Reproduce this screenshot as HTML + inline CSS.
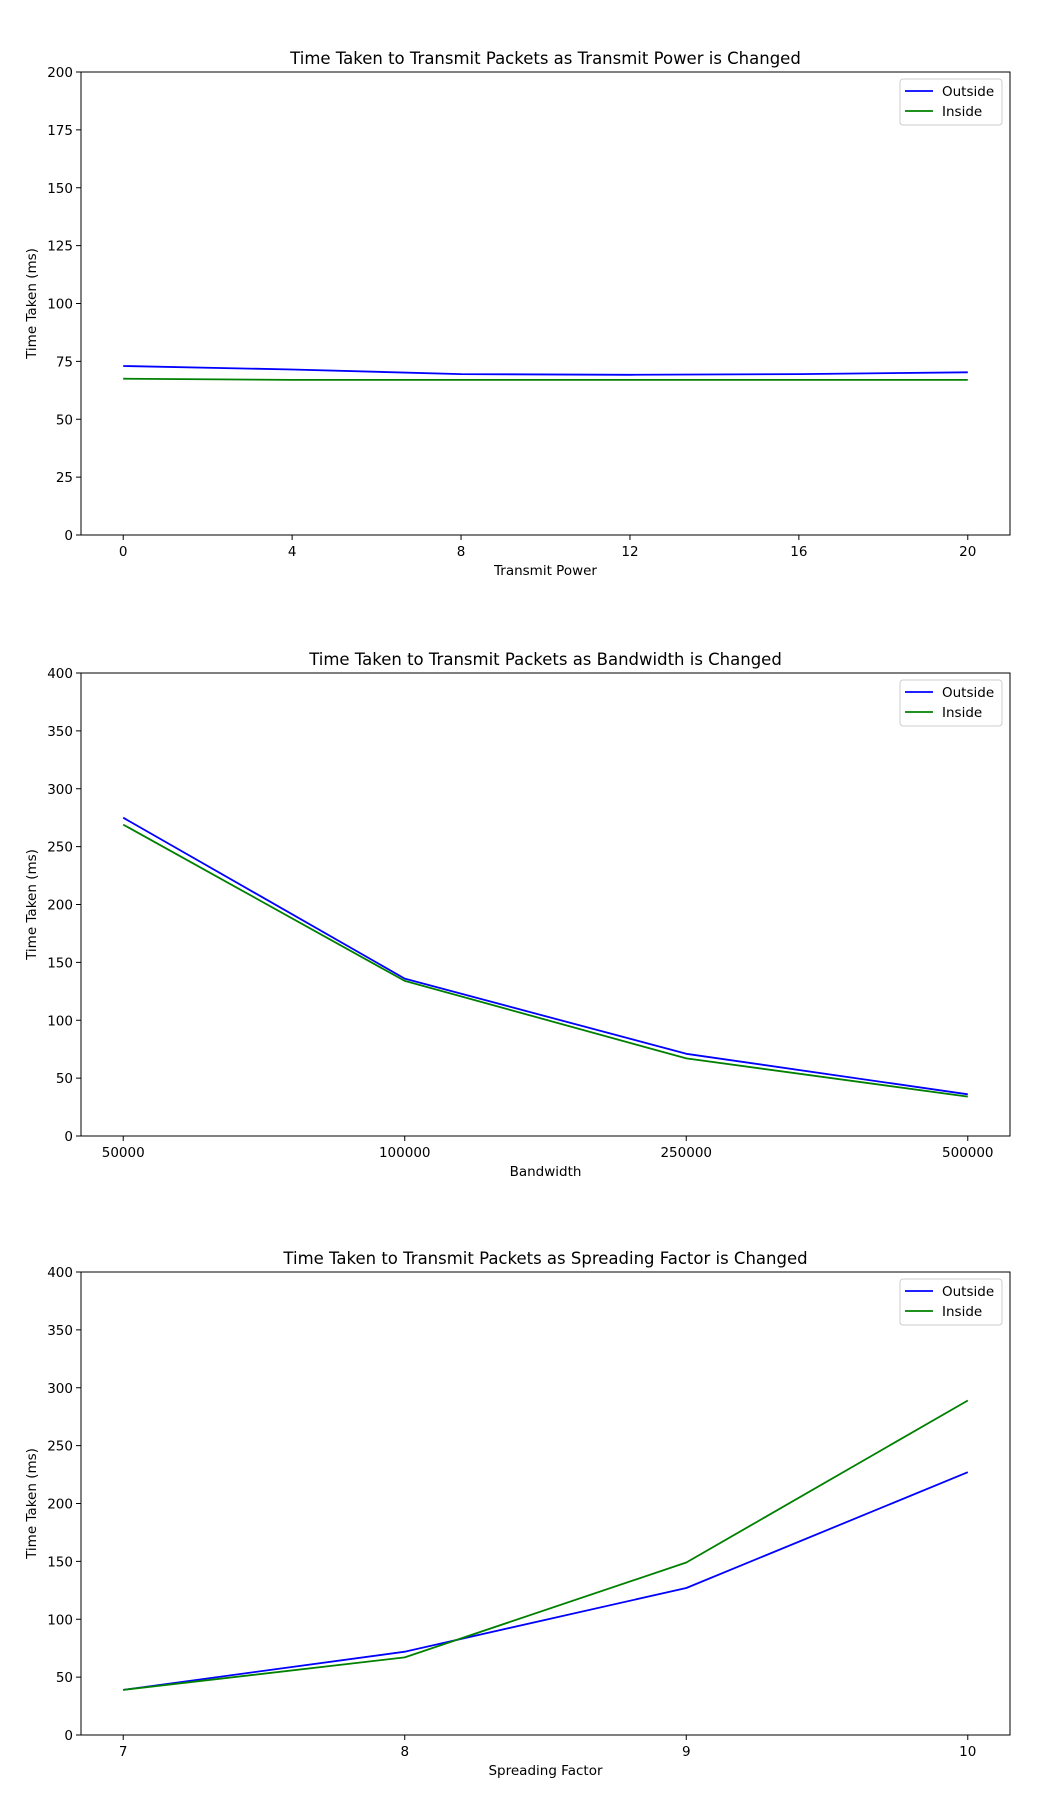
<!DOCTYPE html>
<html><head><meta charset="utf-8"><style>
html,body{margin:0;padding:0;background:#fff;}
svg{display:block;font-family:"DejaVu Sans","Liberation Sans",sans-serif;}
</style></head><body>
<svg id="fig" width="1060" height="1800" viewBox="0 0 1060 1800"></svg>
<script>
const powerX = [0, 4, 8, 12, 16, 20];
const powerOutside = [73, 71.5, 69.5, 69.2, 69.5, 70.3];
const powerInside = [67.5, 67, 67, 67, 67, 67];
const powerXTicks = [0, 4, 8, 12, 16, 20];
const powerYTicks = [0, 25, 50, 75, 100, 125, 150, 175, 200];

const bwCategories = ["50000", "100000", "250000", "500000"];
const bwOutside = [275, 136, 71, 36];
const bwInside = [269, 134, 67, 34];
const bwYTicks = [0, 50, 100, 150, 200, 250, 300, 350, 400];

const sfX = [7, 8, 9, 10];
const sfOutside = [39, 72, 127, 227];
const sfInside = [39, 67, 149, 289];
const sfYTicks = [0, 50, 100, 150, 200, 250, 300, 350, 400];

const NS = "http://www.w3.org/2000/svg";
const fig = document.getElementById('fig');
function mk(tag, attrs, parent, text) {
  const e = document.createElementNS(NS, tag);
  for (const k in attrs) e.setAttribute(k, attrs[k]);
  if (text !== undefined) e.textContent = text;
  (parent || fig).appendChild(e);
  return e;
}

function chart(cfg) {
  const L = 81, R = 1010, T = cfg.top, B = cfg.top + 463;
  const g = mk('g', {});
  
  
  const sx = v => L + (v - cfg.xmin) / (cfg.xmax - cfg.xmin) * (R - L);
  const sy = v => B - (v - cfg.ymin) / (cfg.ymax - cfg.ymin) * (B - T);
  const t = mk('text', {x: (L + R) / 2, y: T - 8, 'text-anchor': 'middle', 'font-size': 16.5}, g, cfg.title);
  
  
  cfg.yTicks.forEach(v => {
    const y = sy(v);
    mk('line', {x1: L - 5, x2: L, y1: y, y2: y, stroke: '#000', 'stroke-width': 1}, g);
    const tl = mk('text', {x: L - 8, y: y + 5, 'text-anchor': 'end', 'font-size': 13.5}, g, String(v));
    
    
  });
  cfg.xTicks.forEach((v, i) => {
    const x = sx(v);
    mk('line', {x1: x, x2: x, y1: B, y2: B + 5, stroke: '#000', 'stroke-width': 1}, g);
    const tl = mk('text', {x: x, y: B + 21, 'text-anchor': 'middle', 'font-size': 13.5}, g, cfg.xLabels[i]);
    
    
  });
  const xt = mk('text', {x: (L + R) / 2, y: B + 40, 'text-anchor': 'middle', 'font-size': 13.5}, g, cfg.xTitle);
  
  
  const yt = mk('text', {x: 0, y: 0, 'text-anchor': 'middle', 'font-size': 13.5, transform: `translate(36,${(T + B) / 2}) rotate(-90)`}, g, 'Time Taken (ms)');
  
  
  const series = [[cfg.outside, '#0000ff', 'outside-line'], [cfg.inside, '#008000', 'inside-line']];
  series.forEach(([vals, col, nm]) => {
    const pts = vals.map((v, i) => sx(cfg.xs[i]).toFixed(1) + ',' + sy(v).toFixed(1)).join(' ');
    const p = mk('polyline', {points: pts, fill: 'none', stroke: col, 'stroke-width': 1.8, 'stroke-linejoin': 'round'}, g);
    
    
  });
  mk('rect', {x: L, y: T, width: R - L, height: B - T, fill: 'none', stroke: '#000', 'stroke-width': 1}, g);
  const lg = mk('g', {}, g);
  
  
  mk('rect', {x: 900, y: T + 7, width: 102, height: 46, rx: 3, fill: '#fff', stroke: '#ccc', 'stroke-width': 1}, lg);
  [['Outside', '#0000ff', 19], ['Inside', '#008000', 39]].forEach(([lab, col, dy]) => {
    mk('line', {x1: 905, x2: 933, y1: T + dy, y2: T + dy, stroke: col, 'stroke-width': 1.8}, lg);
    const lt = mk('text', {x: 942, y: T + dy + 5, 'font-size': 13.5}, lg, lab);
    
    
  });
}

chart({name: 'transmit-power-chart', top: 72, title: 'Time Taken to Transmit Packets as Transmit Power is Changed',
  xTitle: 'Transmit Power', xmin: -1, xmax: 21, ymin: 0, ymax: 200,
  xs: powerX, outside: powerOutside, inside: powerInside,
  xTicks: powerXTicks, xLabels: powerXTicks.map(String), yTicks: powerYTicks});

chart({name: 'bandwidth-chart', top: 673, title: 'Time Taken to Transmit Packets as Bandwidth is Changed',
  xTitle: 'Bandwidth', xmin: -0.15, xmax: 3.15, ymin: 0, ymax: 400,
  xs: bwCategories.map((c, i) => i), outside: bwOutside, inside: bwInside,
  xTicks: bwCategories.map((c, i) => i), xLabels: bwCategories, yTicks: bwYTicks});

chart({name: 'spreading-factor-chart', top: 1272, title: 'Time Taken to Transmit Packets as Spreading Factor is Changed',
  xTitle: 'Spreading Factor', xmin: 6.85, xmax: 10.15, ymin: 0, ymax: 400,
  xs: sfX, outside: sfOutside, inside: sfInside,
  xTicks: sfX, xLabels: sfX.map(String), yTicks: sfYTicks});
</script>
</body></html>
